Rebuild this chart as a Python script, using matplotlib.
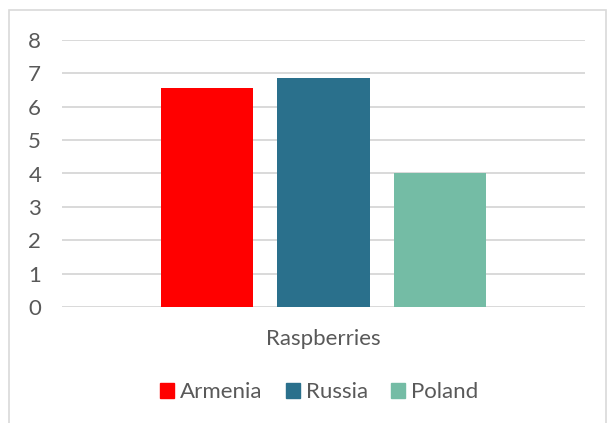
import matplotlib
matplotlib.use("Agg")
import matplotlib.pyplot as plt
from matplotlib.patches import Rectangle
import numpy as np

categories = ["Raspberries"]
series = ["Armenia", "Russia", "Poland"]
values = [6.57, 6.87, 4.0]
colors = ["#ff0000", "#2a708c", "#74bca5"]
yticks = [0, 1, 2, 3, 4, 5, 6, 7, 8]

plt.rcParams['font.family'] = ['Lato', 'DejaVu Sans']
W, H = 607, 423
fig = plt.figure(figsize=(W/100, H/100), dpi=100)
txt = "#595959"
grid = "#d9d9d9"

# chart border
fig.patches.append(Rectangle((9/W, -0.1), (606-9)/W, 1.1 - 10/H, transform=fig.transFigure,
                             fill=False, edgecolor=grid, linewidth=1.2))

ax = fig.add_axes([62/W, (H-307)/H, (585-62)/W, (307-40)/H])
offsets = [-1, 0, 1]
for off, v, c, s in zip(offsets, values, colors, series):
    ax.bar(off, v, width=0.793, color=c, label=s, zorder=3)
ax.set_xlim(-2.254, 2.254)
ax.set_ylim(0, 8)
ax.set_yticks(yticks)
ax.set_yticklabels([str(t) for t in yticks], color=txt, fontsize=16)
ax.set_xticks([0])
ax.set_xticklabels(categories, color=txt, fontsize=16)
ax.tick_params(axis='both', length=0)
ax.tick_params(axis='y', pad=15)
ax.tick_params(axis='x', pad=16)
for sp in ax.spines.values():
    sp.set_visible(False)
ax.yaxis.grid(True, color=grid, linewidth=1.4, zorder=0)
ax.set_axisbelow(True)

handles = [Rectangle((0, 0), 1, 1, color=c) for c in colors]
fig.legend(handles, series, loc='center', bbox_to_anchor=(319/W, (H-392)/H), ncol=3,
           frameon=False, fontsize=16, labelcolor=txt, handlelength=0.65, handleheight=0.65,
           handletextpad=0.25, columnspacing=1.05)

fig.savefig("out.png", dpi=100, facecolor="white")
